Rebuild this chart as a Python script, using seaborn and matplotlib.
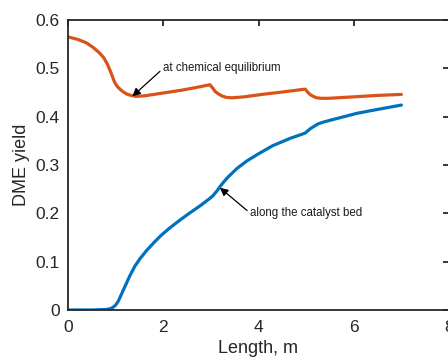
import numpy as np
import pandas as pd
import matplotlib
matplotlib.use("Agg")
import matplotlib.pyplot as plt
import seaborn as sns

# Data
eq_x = [0.0, 0.2, 0.38, 0.52, 0.66, 0.75, 0.83, 0.89, 0.94, 0.98, 1.03, 1.09, 1.15, 1.23,
        1.32, 1.42, 1.6, 2.0, 2.4, 2.67, 2.98, 3.04, 3.09, 3.16, 3.23, 3.32, 3.44, 3.7,
        4.07, 4.5, 4.98, 5.03, 5.08, 5.15, 5.22, 5.32, 5.47, 6.0, 6.5, 7.0]
eq_y = [0.565, 0.560, 0.553, 0.544, 0.532, 0.522, 0.508, 0.494, 0.481, 0.471, 0.463, 0.457,
        0.452, 0.447, 0.444, 0.442, 0.443, 0.449, 0.455, 0.460, 0.466, 0.459, 0.452, 0.447,
        0.443, 0.440, 0.439, 0.441, 0.446, 0.451, 0.457, 0.451, 0.446, 0.442, 0.439, 0.438,
        0.438, 0.441, 0.444, 0.446]

bed_x = [0.0, 0.5, 0.8, 0.9, 0.95, 1.0, 1.06, 1.11, 1.16, 1.23, 1.30, 1.40, 1.51, 1.65,
         1.79, 1.95, 2.14, 2.35, 2.56, 2.78, 2.98, 3.04, 3.09, 3.14, 3.19, 3.27, 3.37, 3.55,
         3.75, 3.98, 4.3, 4.66, 4.98, 5.05, 5.1, 5.15, 5.25, 5.37, 5.6, 6.07, 6.5, 7.0]
bed_y = [0.0, 0.0, 0.001, 0.003, 0.006, 0.010, 0.019, 0.030, 0.041, 0.056, 0.071, 0.090,
         0.106, 0.123, 0.138, 0.154, 0.170, 0.186, 0.201, 0.216, 0.231, 0.236, 0.242, 0.248,
         0.255, 0.265, 0.276, 0.293, 0.308, 0.322, 0.340, 0.355, 0.366, 0.372, 0.376, 0.379,
         0.385, 0.389, 0.395, 0.407, 0.415, 0.424]

x_ticks = [0, 2, 4, 6, 8]
y_ticks = [0, 0.1, 0.2, 0.3, 0.4, 0.5, 0.6]
y_ticklabels = ["0", "0.1", "0.2", "0.3", "0.4", "0.5", "0.6"]

sns.set_theme(style="white")
plt.rcParams["font.family"] = ["Liberation Sans", "DejaVu Sans"]
plt.rcParams["xtick.direction"] = "in"
plt.rcParams["ytick.direction"] = "in"

df_eq = pd.DataFrame({"x": eq_x, "y": eq_y})
df_bed = pd.DataFrame({"x": bed_x, "y": bed_y})

W, H = 448, 358
fig = plt.figure(figsize=(W / 100, H / 100), dpi=100)
ax = fig.add_axes([68 / W, 48 / H, 381 / W, 290 / H])

orange = "#D95319"
blue = "#0072BD"
sns.lineplot(data=df_eq, x="x", y="y", ax=ax, color=orange, linewidth=2.3, sort=False)
sns.lineplot(data=df_bed, x="x", y="y", ax=ax, color=blue, linewidth=2.3, sort=False)
for ln in ax.lines:
    ln.set_solid_joinstyle("round")
    ln.set_solid_capstyle("round")

ax.set_xlim(0, 8)
ax.set_ylim(0, 0.6)
ax.set_xticks(x_ticks)
ax.set_yticks(y_ticks)
ax.set_yticklabels(y_ticklabels)

spine_c = "#262626"
for s in ax.spines.values():
    s.set_color(spine_c)
    s.set_linewidth(1.3)
    s.set_visible(True)
ax.tick_params(axis="both", which="both", direction="in", top=True, right=True,
               length=4, width=1.3, color=spine_c, labelsize=12.5, labelcolor=spine_c)
ax.tick_params(axis="x", pad=7)
ax.tick_params(axis="y", pad=6)

ax.set_xlabel("Length, m", fontsize=13, color=spine_c)
ax.set_ylabel("DME yield", fontsize=13, color=spine_c)
ax.xaxis.set_label_coords(0.5, -0.103)
ax.yaxis.set_label_coords(-0.101, 0.5)

ax.annotate("at chemical equilibrium", xy=(1.35, 0.442), xytext=(2.0, 0.5),
            fontsize=8.3, color="#1a1a1a", ha="left", va="center",
            arrowprops=dict(arrowstyle="-|>", color="black", lw=0.9,
                            shrinkA=0, shrinkB=0, mutation_scale=12,
                            relpos=(0.0, 0.5)),
            annotation_clip=False)
ax.annotate("along the catalyst bed", xy=(3.19, 0.253), xytext=(3.83, 0.2),
            fontsize=8.3, color="#1a1a1a", ha="left", va="center",
            arrowprops=dict(arrowstyle="-|>", color="black", lw=0.9,
                            shrinkA=0, shrinkB=0, mutation_scale=12,
                            relpos=(0.0, 0.5)),
            annotation_clip=False)

fig.savefig("out.png", dpi=100)
